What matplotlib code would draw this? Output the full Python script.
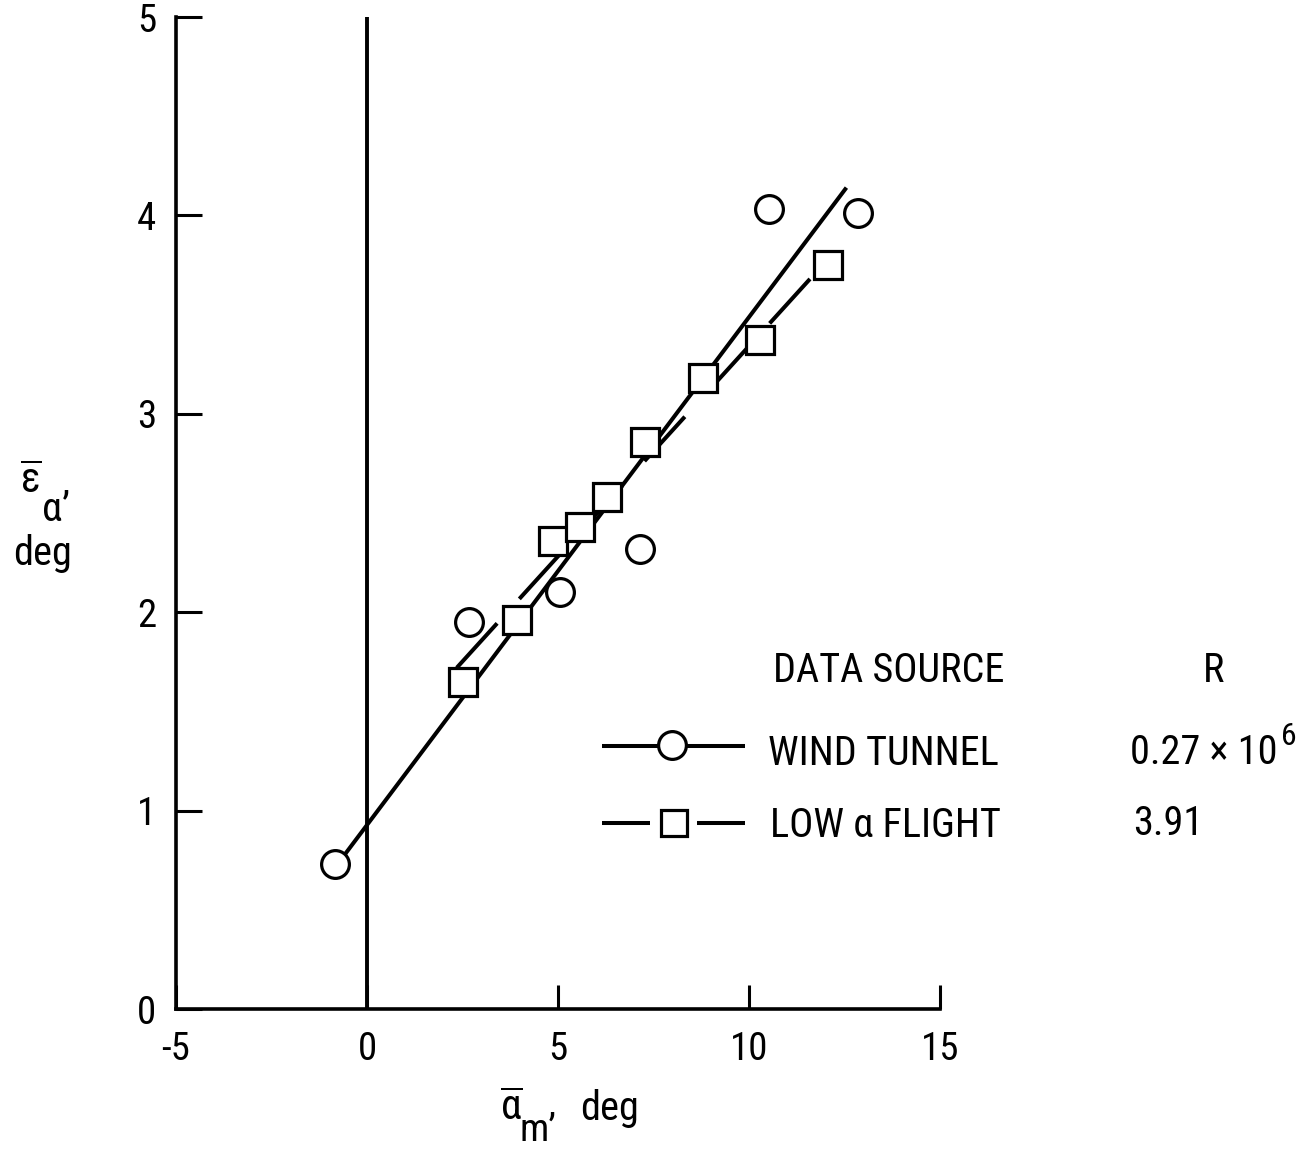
import matplotlib
matplotlib.use('Agg')
import matplotlib.pyplot as plt
from matplotlib import font_manager as fm

W, H = 1309, 1149

# pick a condensed sans (the reference uses a condensed grotesque)
_cands = ['Roboto Condensed', 'Archivo Narrow', 'PT Sans Narrow', 'Fira Sans Condensed',
          'IBM Plex Sans Condensed', 'Liberation Sans Narrow', 'Encode Sans Condensed',
          'Asap Condensed', 'Barlow Semi Condensed', 'Liberation Sans']
_regular = {f.name for f in fm.fontManager.ttflist
            if f.style == 'normal' and f.weight in (400, 'normal', 'regular')}
MAIN = next((c for c in _cands if c in _regular), 'DejaVu Sans')
FONT = [MAIN, 'DejaVu Sans']
plt.rcParams['font.family'] = FONT
plt.rcParams['mathtext.fontset'] = 'custom'
plt.rcParams['mathtext.rm'] = MAIN
plt.rcParams['mathtext.it'] = MAIN
plt.rcParams['mathtext.sf'] = MAIN
plt.rcParams['mathtext.bf'] = MAIN
plt.rcParams['lines.scale_dashes'] = False

# ---- data ----
wt_x = [-0.85, 2.67, 5.05, 7.15, 10.52, 12.85]
wt_y = [0.73, 1.95, 2.10, 2.32, 4.03, 4.01]
fl_x = [2.51, 3.93, 4.87, 5.58, 6.28, 7.28, 8.80, 10.29, 12.07]
fl_y = [1.65, 1.96, 2.36, 2.43, 2.58, 2.86, 3.18, 3.37, 3.75]
wt_fit_x = [-0.85, 12.55]
wt_fit_y = [0.71, 4.14]
fl_fit_x = [2.35, 12.07]
fl_fit_y = [1.72, 3.78]
xticks = [-5, 0, 5, 10, 15]
yticks = [0, 1, 2, 3, 4, 5]
legend_title = 'DATA SOURCE'
r_title = 'R'
legend_labels = ['WIND TUNNEL', 'LOW \u03b1 FLIGHT']
r_values = ['0.27 \u00d7 10', '3.91']
r_exponent = '6'

FS_TICK = 28
FS_LEG = 29
LW = 2.9
fig = plt.figure(figsize=(W / 100, H / 100), dpi=100)
ax = fig.add_axes([176 / W, 1 - 1009 / H, (940 - 176) / W, (1009 - 17) / H])

ax.set_xlim(-5, 15)
ax.set_ylim(0, 5)
for s in ['top', 'right']:
    ax.spines[s].set_visible(False)
for s in ['left', 'bottom']:
    ax.spines[s].set_linewidth(2.6)

ax.set_xticks(xticks)
ax.set_yticks(yticks)
ax.set_xticklabels([str(t) for t in xticks])
ax.set_yticklabels([str(t) for t in yticks])
ax.tick_params(axis='x', direction='in', length=17, width=2.2, pad=16, labelsize=FS_TICK)
ax.tick_params(axis='y', direction='in', length=19, width=2.2, pad=14, labelsize=FS_TICK)

ax.axvline(0, color='black', lw=2.8, zorder=1)

ax.plot(wt_fit_x, wt_fit_y, color='black', lw=LW, solid_capstyle='butt', zorder=2, clip_on=False)
ax.plot(fl_fit_x, fl_fit_y, color='black', lw=LW, dashes=(43.2, 23.8), dash_capstyle='butt',
        zorder=2, clip_on=False)

ax.plot(wt_x, wt_y, linestyle='none', marker='o', ms=20, mfc='white', mec='black', mew=2.3,
        zorder=3, clip_on=False)
ax.plot(fl_x, fl_y, linestyle='none', marker='s', ms=19.5, mfc='white', mec='black', mew=2.3,
        zorder=3, clip_on=False)


# ---- legend (manual, figure pixel positions) ----
def fx(px):
    return px / W


def fy(py):
    return 1 - py / H


def T(px, py, s, size, ha='left'):
    return fig.text(fx(px), fy(py), s, ha=ha, va='baseline', fontsize=size)


T(773, 682, legend_title, FS_LEG)
T(1214, 682, r_title, FS_LEG, ha='center')

# row 1
ax.plot([fx(602), fx(745)], [fy(746), fy(746)], transform=fig.transFigure, color='black',
        lw=LW, clip_on=False, solid_capstyle='butt')
ax.plot([fx(672)], [fy(745)], transform=fig.transFigure, marker='o', ms=20, mfc='white',
        mec='black', mew=2.3, clip_on=False, linestyle='none')
T(768, 765, legend_labels[0], FS_LEG)
T(1130, 764, r_values[0], FS_LEG)
T(1281, 745, r_exponent, 23)

# row 2
ax.plot([fx(602), fx(650)], [fy(823), fy(823)], transform=fig.transFigure, color='black',
        lw=LW, clip_on=False, solid_capstyle='butt')
ax.plot([fx(697), fx(745)], [fy(823), fy(823)], transform=fig.transFigure, color='black',
        lw=LW, clip_on=False, solid_capstyle='butt')
ax.plot([fx(674)], [fy(823)], transform=fig.transFigure, marker='s', ms=19, mfc='white',
        mec='black', mew=2.3, clip_on=False, linestyle='none')
T(770, 837, legend_labels[1], FS_LEG)
T(1133, 835, r_values[1], FS_LEG)

# ---- axis labels ----
T(20, 493, r"$\overline{\varepsilon}$", 30)
T(42, 521, '\u03b1\u2019', 29)
T(13, 565, 'deg', 29)

T(500, 1120, r"$\overline{\alpha}$", 30)
T(520, 1141, 'm\u2019', 28)
T(580, 1120, 'deg', 29)

fig.savefig('out.png', dpi=100)
